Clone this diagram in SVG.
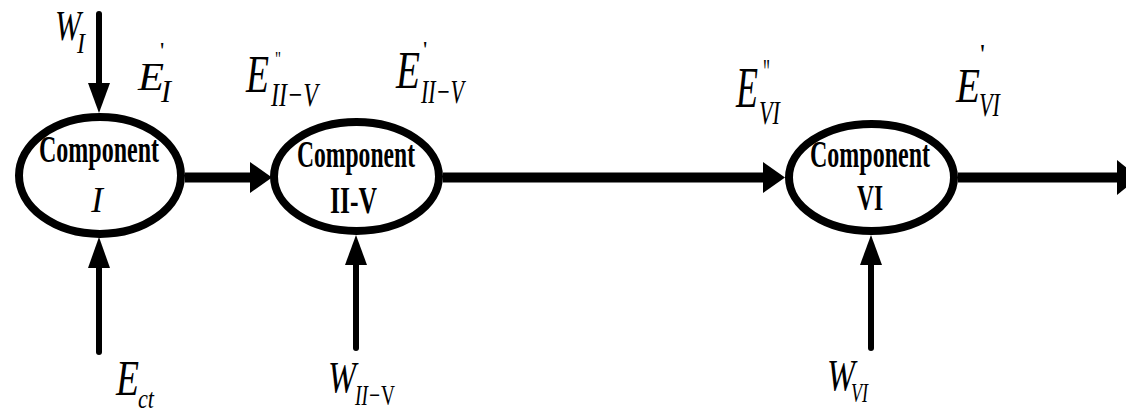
<svg xmlns="http://www.w3.org/2000/svg" width="1126" height="409" viewBox="0 0 1126 409">
<style>
.node{fill:#fff;stroke:#000;stroke-width:8}
.cap{font-family:"Liberation Serif","Times New Roman",serif;font-weight:bold;text-anchor:middle;fill:#000}
.it{font-family:"Liberation Serif","Times New Roman",serif;font-style:italic;fill:#000}
.rm{font-family:"Liberation Serif","Times New Roman",serif;fill:#000}
.h{stroke:#000;stroke-width:10;fill:none}
.v{stroke:#000;stroke-width:6;fill:none;stroke-linecap:round}
.head{fill:#000;stroke:none}
</style>
<rect width="1126" height="409" fill="#fff"/>
<g id="connectors">
  <line class="v" x1="99" y1="14" x2="99" y2="86"/>
  <polygon class="head" points="88,83 110,83 99,113"/>
  <line class="v" x1="99" y1="352" x2="99" y2="266"/>
  <polygon class="head" points="88,268 110,268 99,237"/>
  <line class="h" x1="185" y1="177.5" x2="252" y2="177.5"/>
  <polygon class="head" points="250,162 250,193 272,177.5"/>
  <line class="h" x1="443" y1="177.5" x2="765" y2="177.5"/>
  <polygon class="head" points="763,162 763,193 785,177.5"/>
  <line class="h" x1="958" y1="177.5" x2="1120" y2="177.5"/>
  <polygon class="head" points="1117,160 1117,195 1139,177.5"/>
  <line class="v" x1="356" y1="348" x2="356" y2="262"/>
  <polygon class="head" points="345,265 367,265 356,235"/>
  <line class="v" x1="871" y1="348" x2="871" y2="262"/>
  <polygon class="head" points="860,265 882,265 871,235"/>
</g>
<g id="node-I">
  <ellipse class="node" cx="100" cy="175.5" rx="81" ry="58.5"/>
  <text class="cap" x="99" y="162" font-size="37" textLength="120" lengthAdjust="spacingAndGlyphs">Component</text>
  <text class="it" x="97" y="212" font-size="35" text-anchor="middle">I</text>
</g>
<g id="node-II-V">
  <ellipse class="node" cx="356.5" cy="176.5" rx="82.5" ry="54.5"/>
  <text class="cap" x="356" y="167" font-size="37" textLength="118" lengthAdjust="spacingAndGlyphs">Component</text>
  <text class="cap" x="353.5" y="213" font-size="38" textLength="47" lengthAdjust="spacingAndGlyphs">II-V</text>
</g>
<g id="node-VI">
  <ellipse class="node" cx="871.5" cy="177.5" rx="82.5" ry="53.5"/>
  <text class="cap" x="870" y="167" font-size="37" textLength="120" lengthAdjust="spacingAndGlyphs">Component</text>
  <text class="cap" x="870" y="210" font-size="35" textLength="26" lengthAdjust="spacingAndGlyphs">VI</text>
</g>
<g id="labels">
  <text class="it" x="55" y="40" font-size="42" textLength="26" lengthAdjust="spacingAndGlyphs">W</text>
  <text class="it" x="77" y="53" font-size="29" textLength="8" lengthAdjust="spacingAndGlyphs">I</text>
  <text class="it" x="138" y="90" font-size="41" textLength="26" lengthAdjust="spacingAndGlyphs">E</text>
  <text class="rm" x="160" y="58" font-size="24">'</text>
  <text class="it" x="161" y="102" font-size="32" textLength="10" lengthAdjust="spacingAndGlyphs">I</text>
  <text class="it" x="246" y="92" font-size="53" textLength="23" lengthAdjust="spacingAndGlyphs">E</text>
  <text class="rm" x="275" y="66" font-size="22" textLength="6" lengthAdjust="spacingAndGlyphs">"</text>
  <text class="it" x="271" y="106" font-size="34" textLength="47" lengthAdjust="spacingAndGlyphs">II−V</text>
  <text class="it" x="396" y="88" font-size="53" textLength="24" lengthAdjust="spacingAndGlyphs">E</text>
  <text class="rm" x="423" y="57" font-size="24">'</text>
  <text class="it" x="421" y="103" font-size="34" textLength="43" lengthAdjust="spacingAndGlyphs">II−V</text>
  <text class="it" x="736" y="107" font-size="57" textLength="22" lengthAdjust="spacingAndGlyphs">E</text>
  <text class="rm" x="763" y="84" font-size="36" textLength="7" lengthAdjust="spacingAndGlyphs">"</text>
  <text class="it" x="759" y="124" font-size="34" textLength="21" lengthAdjust="spacingAndGlyphs">VI</text>
  <text class="it" x="956" y="102" font-size="48" textLength="24" lengthAdjust="spacingAndGlyphs">E</text>
  <text class="rm" x="980" y="63" font-size="28">'</text>
  <text class="it" x="979" y="116" font-size="34" textLength="21" lengthAdjust="spacingAndGlyphs">VI</text>
  <text class="it" x="116" y="395" font-size="50" textLength="23" lengthAdjust="spacingAndGlyphs">E</text>
  <text class="it" x="138" y="408" font-size="28" textLength="16" lengthAdjust="spacingAndGlyphs">ct</text>
  <text class="it" x="328" y="392" font-size="45" textLength="28" lengthAdjust="spacingAndGlyphs">W</text>
  <text class="it" x="355" y="405" font-size="30" textLength="40" lengthAdjust="spacingAndGlyphs">II−<tspan font-style="normal">V</tspan></text>
  <text class="it" x="827" y="390" font-size="45" textLength="28" lengthAdjust="spacingAndGlyphs">W</text>
  <text class="it" x="851" y="402" font-size="28" textLength="17" lengthAdjust="spacingAndGlyphs">VI</text>
</g>
</svg>
